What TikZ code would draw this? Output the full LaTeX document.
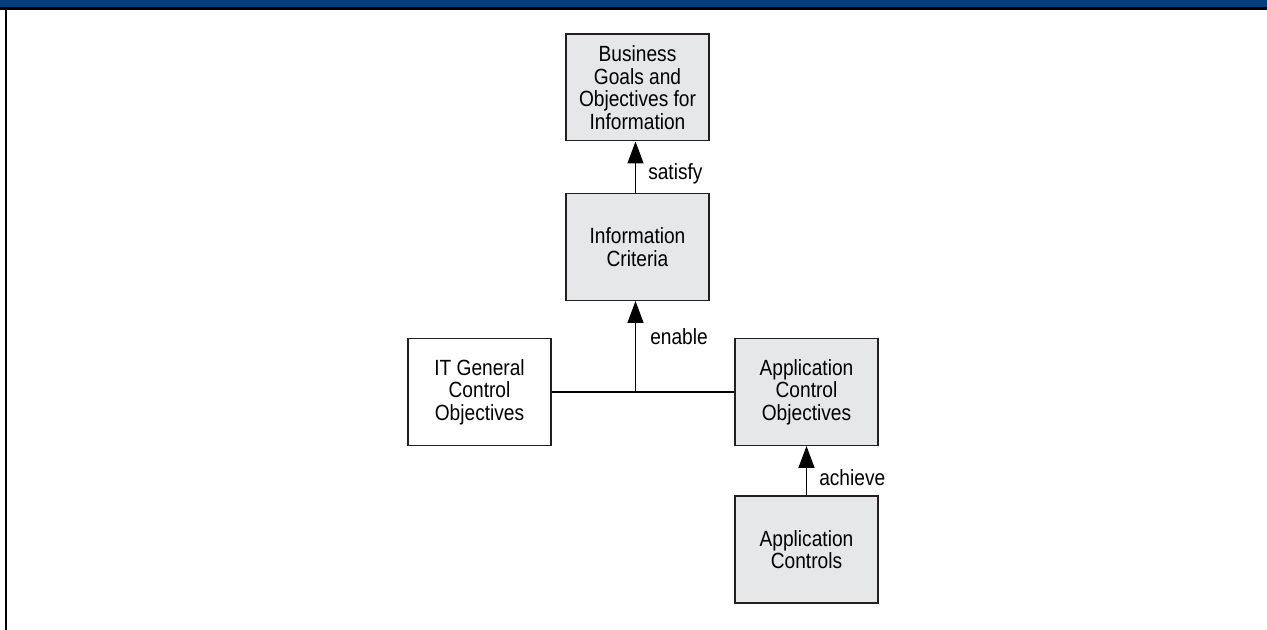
\documentclass[tikz,border=0pt]{standalone}
\usepackage{fontspec}
\setmainfont{Liberation Sans}[FakeStretch=0.87]
\usetikzlibrary{arrows.meta}
\definecolor{barblue}{RGB}{0,63,127}
\definecolor{boxgray}{RGB}{230,231,233}
\definecolor{edgegray}{RGB}{35,31,32}
\begin{document}
\begin{tikzpicture}[x=0.75pt,y=-0.75pt,
  box/.style={draw=edgegray,line width=1.1pt,fill=boxgray,
    minimum width=107.5pt,minimum height=79.9pt,inner sep=0pt,
    align=center,font=\fontsize{16.5pt}{17pt}\selectfont},
  plainbox/.style={box,fill=white},
  link/.style={draw=black,line width=1.1pt},
  uparrow/.style={link,-{Triangle[width=12pt,length=16.5pt]}},
  lbl/.style={anchor=base west,inner sep=0pt,font=\fontsize{16.5pt}{17pt}\selectfont}]
  \useasboundingbox (0,0) rectangle (1267,630);
  % header bar and frame
  \fill[barblue] (0,0) rectangle (1267,7.5);
  \draw[line width=1.6pt] (0,8.5) -- (1267,8.5);
  \draw[line width=2pt] (6,8) -- (6,630);
  % boxes
  \node[box] (bus) at (637.5,87.5) {Business\\Goals and\\Objectives for\\Information};
  \node[box] (info) at (637.5,247) {Information\\Criteria};
  \node[plainbox] (it) at (479.5,392) {IT General\\Control\\Objectives};
  \node[box] (aco) at (806.5,392) {Application\\Control\\Objectives};
  \node[box] (ac) at (806.5,549.5) {Application\\Controls};
  % connectors
  \draw[uparrow] ([xshift=-1.5]info.north) -- ([xshift=-1.5]bus.south);
  \draw[link] (it.east) -- (aco.west);
  \coordinate (join) at ([xshift=-1.5]info.south |- it.east);
  \draw[uparrow] (join) -- ([xshift=-1.5]info.south);
  \draw[uparrow] (ac.north) -- (aco.south);
  % labels
  \node[lbl] (ls) at (648,180) {satisfy};
  \node[lbl] (le) at (650,345) {enable};
  \node[lbl] (la) at (819,486) {achieve};
\end{tikzpicture}
\end{document}
